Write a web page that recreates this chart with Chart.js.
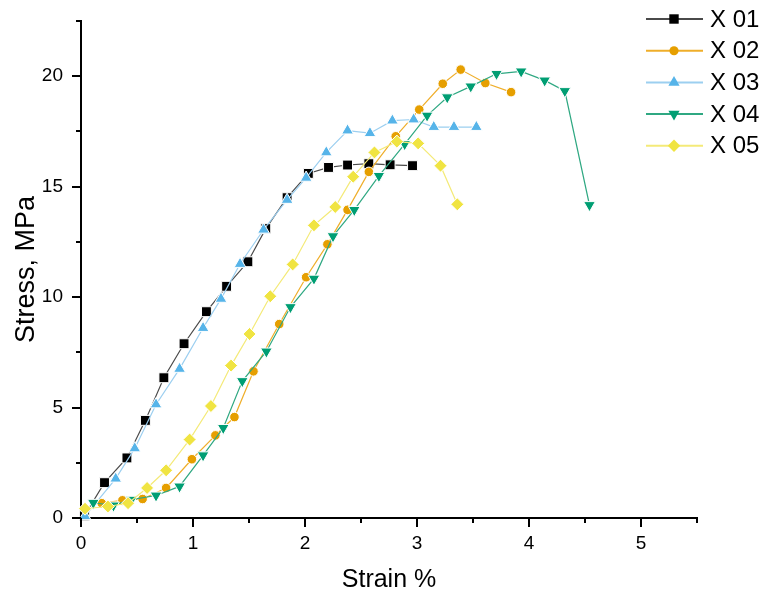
<!DOCTYPE html>
<html>
<head>
<meta charset="utf-8">
<script src="https://cdn.jsdelivr.net/npm/chart.js@4.4.1/dist/chart.umd.min.js"></script>
<style>
  html, body { margin: 0; padding: 0; background: #fff; }
  #wrap { position: relative; width: 766px; height: 596px; }
</style>
</head>
<body>
<div id="wrap"><canvas id="chart" width="766" height="596"></canvas></div>
<script>
// Stress–strain curves, five specimens
const seriesNames = ["X 01", "X 02", "X 03", "X 04", "X 05"];

const strain01 = [0.03, 0.21, 0.41, 0.575, 0.74, 0.92, 1.12, 1.30, 1.49, 1.65, 1.84, 2.03, 2.21, 2.38, 2.57, 2.76, 2.96];
const stress01 = [0.10, 1.60, 2.72, 4.42, 6.35, 7.89, 9.34, 10.49, 11.60, 13.10, 14.50, 15.60, 15.87, 15.98, 16.04, 15.99, 15.95];

const strain02 = [0.185, 0.37, 0.55, 0.76, 0.99, 1.20, 1.37, 1.54, 1.77, 2.01, 2.20, 2.38, 2.57, 2.81, 3.02, 3.23, 3.39, 3.61, 3.84];
const stress02 = [0.67, 0.80, 0.86, 1.36, 2.66, 3.74, 4.57, 6.64, 8.78, 10.90, 12.39, 13.95, 15.67, 17.28, 18.49, 19.66, 20.30, 19.69, 19.28];

const strain03 = [0.036, 0.31, 0.48, 0.67, 0.88, 1.09, 1.25, 1.42, 1.63, 1.84, 2.01, 2.19, 2.38, 2.58, 2.78, 2.97, 3.15, 3.33, 3.53];
const stress03 = [0.08, 1.78, 3.15, 5.14, 6.75, 8.60, 9.92, 11.50, 13.05, 14.40, 15.40, 16.55, 17.54, 17.42, 17.99, 18.04, 17.70, 17.70, 17.70];

const strain04 = [0.11, 0.29, 0.45, 0.67, 0.88, 1.09, 1.27, 1.44, 1.655, 1.87, 2.08, 2.25, 2.44, 2.66, 2.89, 3.09, 3.27, 3.48, 3.71, 3.93, 4.14, 4.32, 4.54];
const stress04 = [0.69, 0.57, 0.83, 1.02, 1.43, 2.84, 4.08, 6.20, 7.54, 9.55, 10.84, 12.76, 13.95, 15.49, 16.93, 18.22, 19.05, 19.54, 20.11, 20.22, 19.81, 19.33, 14.17];

const strain05 = [0.036, 0.24, 0.42, 0.59, 0.76, 0.97, 1.16, 1.34, 1.505, 1.69, 1.89, 2.08, 2.27, 2.43, 2.62, 2.82, 3.01, 3.21, 3.36];
const stress05 = [0.42, 0.52, 0.67, 1.36, 2.16, 3.55, 5.07, 6.90, 8.33, 10.04, 11.48, 13.25, 14.08, 15.45, 16.55, 17.04, 16.96, 15.95, 14.20];

const xTickMajor = [0, 1, 2, 3, 4, 5];
const yTickMajor = [0, 5, 10, 15, 20];

const FONT = "'Liberation Sans', Arial, Helvetica, sans-serif";

const markerColors = ["#000000", "#E69F00", "#56B4E9", "#009E73", "#F0E442"];
const lineColors   = ["#4a4a4a", "#EFAE2A", "#9CCFF0", "#2FA882", "#F4EA78"];
const markerStyles = ["rect", "circle", "triangle", "triangle", "rectRot"];
const markerRadius = [7, 4.8, 6.8, 6.8, 6.5];
const markerRotate = [0, 0, 0, 180, 0];

const xs = [strain01, strain02, strain03, strain04, strain05];
const ys = [stress01, stress02, stress03, stress04, stress05];

const datasets = seriesNames.map((name, i) => ({
  label: name,
  data: xs[i].map((x, k) => ({ x, y: ys[i][k] })),
  showLine: true,
  borderColor: lineColors[i],
  borderWidth: 1.2,
  backgroundColor: markerColors[i],
  pointBackgroundColor: markerColors[i],
  pointBorderColor: "#ffffff",
  pointBorderWidth: 1,
  pointStyle: markerStyles[i],
  pointRadius: markerRadius[i],
  pointHoverRadius: markerRadius[i],
  pointRotation: markerRotate[i],
  tension: 0,
  clip: false,
  order: seriesNames.length - i,   // later specimens on top
}));

// Outward major/minor tick marks in the Origin style
const tickMarks = {
  id: "tickMarks",
  afterDraw(chart) {
    const { ctx, chartArea, scales } = chart;
    ctx.save();
    ctx.strokeStyle = "#000";
    ctx.lineWidth = 2;
    ctx.beginPath();
    for (let v = 0; v <= 5.5 + 1e-9; v += 0.5) {
      const px = Math.round(scales.x.getPixelForValue(v));
      const len = Math.abs(v - Math.round(v)) < 1e-9 ? 9 : 5;
      ctx.moveTo(px, chartArea.bottom);
      ctx.lineTo(px, chartArea.bottom + len);
    }
    for (let v = 0; v <= 22.5 + 1e-9; v += 2.5) {
      const py = Math.round(scales.y.getPixelForValue(v));
      const len = Math.abs(v / 5 - Math.round(v / 5)) < 1e-9 ? 9 : 5;
      ctx.moveTo(chartArea.left, py);
      ctx.lineTo(chartArea.left - len, py);
    }
    ctx.stroke();
    ctx.restore();
  },
};

// Legend drawn inside the upper right corner
const cornerLegend = {
  id: "cornerLegend",
  afterDraw(chart) {
    const { ctx } = chart;
    const x0 = 646, x1 = 703, xm = 674, xt = 710;
    const rows = [19, 50.7, 82.4, 114, 145.7];
    ctx.save();
    seriesNames.forEach((name, i) => {
      const y = rows[i];
      ctx.strokeStyle = lineColors[i];
      ctx.lineWidth = 2;
      ctx.beginPath();
      ctx.moveTo(x0, y);
      ctx.lineTo(x1, y);
      ctx.stroke();
      ctx.fillStyle = markerColors[i];
      ctx.strokeStyle = markerColors[i];
      ctx.lineWidth = 0;
      Chart.helpers.drawPoint(ctx, {
        pointStyle: markerStyles[i],
        radius: markerRadius[i] * 0.95,
        rotation: markerRotate[i],
        borderWidth: 0,
      }, xm, y);
      ctx.fillStyle = "#000";
      ctx.font = "24px " + FONT;
      ctx.textBaseline = "middle";
      ctx.textAlign = "left";
      ctx.fillText(name, xt, y + 1);
    });
    ctx.restore();
  },
};

new Chart(document.getElementById("chart"), {
  type: "scatter",
  data: { datasets },
  options: {
    responsive: false,
    animation: false,
    events: [],
    layout: { padding: { top: 21, right: 69, left: 0, bottom: 0 } },
    plugins: {
      legend: { display: false },
      tooltip: { enabled: false },
    },
    scales: {
      x: {
        type: "linear",
        min: 0,
        max: 5.5,
        afterFit: s => { s.height = 78; s.paddingLeft = 0; s.paddingRight = 0; },
        afterBuildTicks: s => { s.ticks = xTickMajor.map(v => ({ value: v })); },
        grid: { display: false, drawTicks: false },
        border: { display: true, color: "#000", width: 2 },
        ticks: {
          padding: 14,
          color: "#000",
          font: { family: FONT, size: 19 },
          callback: v => String(v),
        },
        title: {
          display: true,
          text: "Strain %",
          color: "#000",
          font: { family: FONT, size: 25 },
          padding: { top: 0, bottom: 1 },
        },
      },
      y: {
        type: "linear",
        min: 0,
        max: 22.5,
        afterFit: s => { s.width = 81; s.paddingTop = 0; s.paddingBottom = 0; },
        afterBuildTicks: s => { s.ticks = yTickMajor.map(v => ({ value: v })); },
        grid: { display: false, drawTicks: false },
        border: { display: true, color: "#000", width: 2 },
        ticks: {
          padding: 18,
          color: "#000",
          font: { family: FONT, size: 19 },
          callback: v => String(v),
        },
        title: {
          display: true,
          text: "Stress, MPa",
          color: "#000",
          font: { family: FONT, size: 27 },
          padding: { top: 10, bottom: 0 },
        },
      },
    },
  },
  plugins: [tickMarks, cornerLegend],
});
</script>
</body>
</html>
